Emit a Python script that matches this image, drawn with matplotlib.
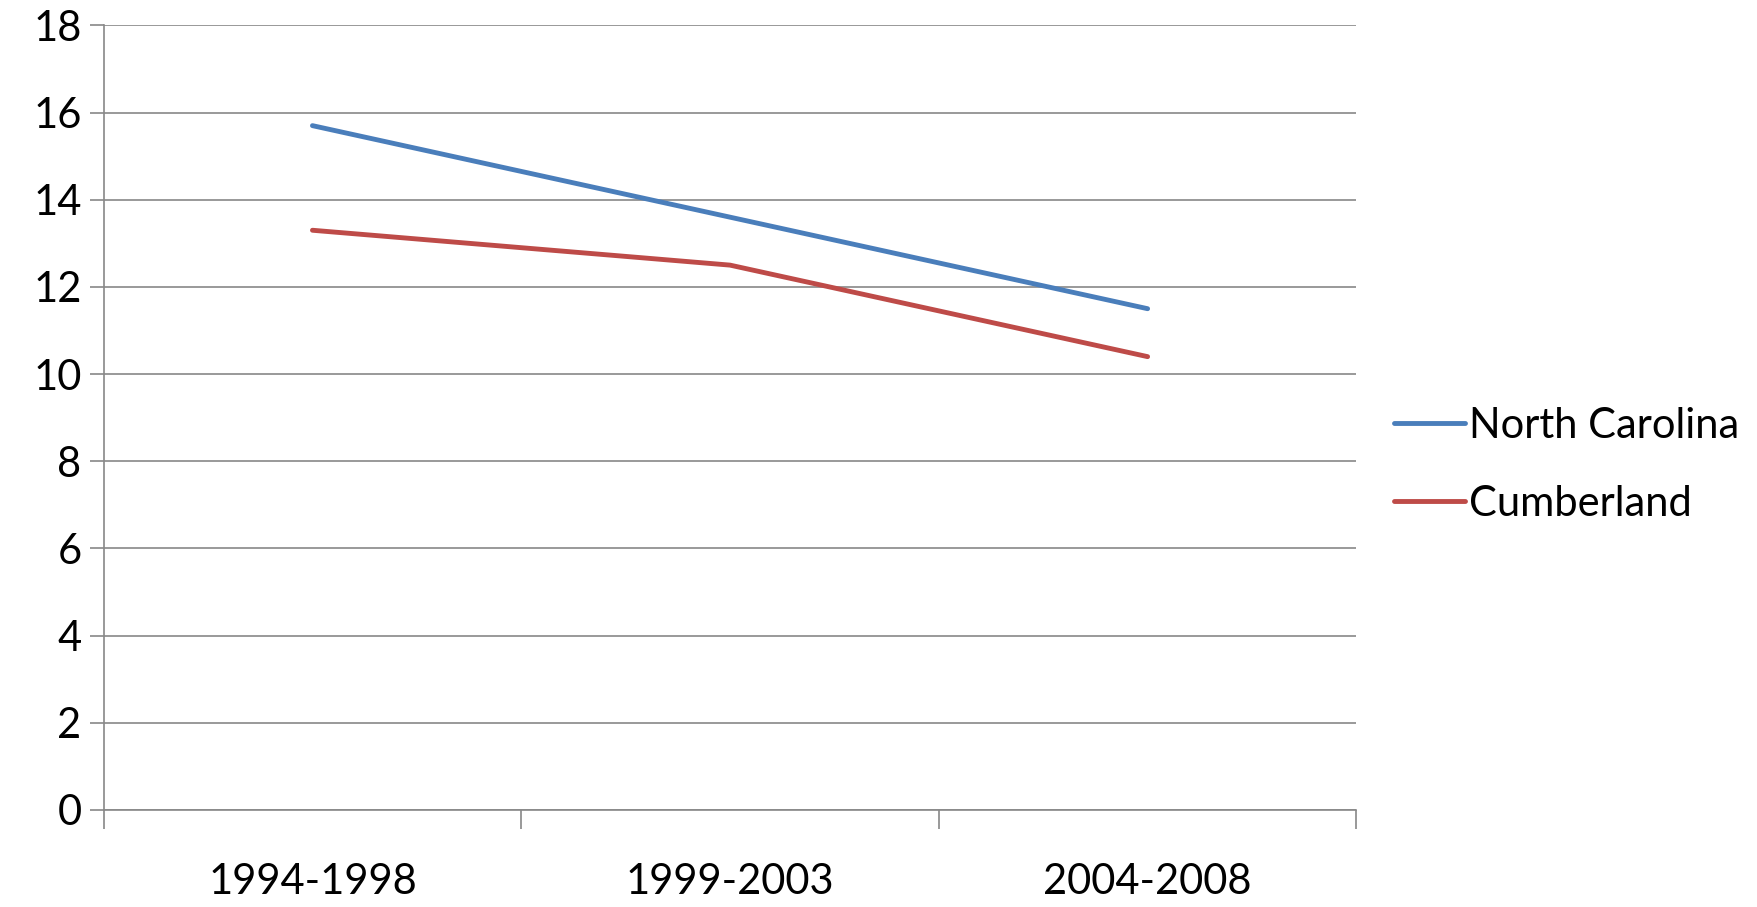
import matplotlib
matplotlib.use("Agg")
import matplotlib.pyplot as plt

categories = ["1994-1998", "1999-2003", "2004-2008"]
north_carolina = [15.7, 13.6, 11.5]
cumberland = [13.3, 12.5, 10.4]

plt.rcParams['font.family'] = ['Lato', 'DejaVu Sans']
fig = plt.figure(figsize=(17.57, 9.07), dpi=100)
ax = fig.add_axes([0.059, 0.107, 0.713, 0.865])
x = [0.5, 1.5, 2.5]
ax.plot(x, north_carolina, color="#4A7EBB", lw=3.5, label="North Carolina", solid_capstyle="round")
ax.plot(x, cumberland, color="#BE4B48", lw=3.5, label="Cumberland", solid_capstyle="round")
ax.set_xlim(0, 3)
ax.set_ylim(0, 18)
ax.set_yticks(range(0, 19, 2))
ax.set_xticks([0, 1, 2, 3])
ax.set_xticklabels([])
ax.set_xticks(x, minor=True)
ax.set_xticklabels(categories, minor=True, fontsize=30)
ax.tick_params(axis="x", which="minor", length=0, pad=38)
ax.tick_params(axis="x", which="major", length=14, width=1.2, color="#888888", direction="out")
ax.tick_params(axis="y", length=10, width=1.2, color="#888888", labelsize=30, pad=6)
ax.grid(axis="y", color="#888888", lw=1.2)
for s in ["top", "right"]:
    ax.spines[s].set_visible(False)
for s in ["left", "bottom"]:
    ax.spines[s].set_color("#888888")
    ax.spines[s].set_linewidth(1.2)
ax.set_axisbelow(True)
leg = ax.legend(loc="center left", bbox_to_anchor=(1.0, 0.44), frameon=False, fontsize=30,
                handlelength=1.7, handletextpad=0.1, labelspacing=0.95)
fig.savefig("out.png", dpi=100)
